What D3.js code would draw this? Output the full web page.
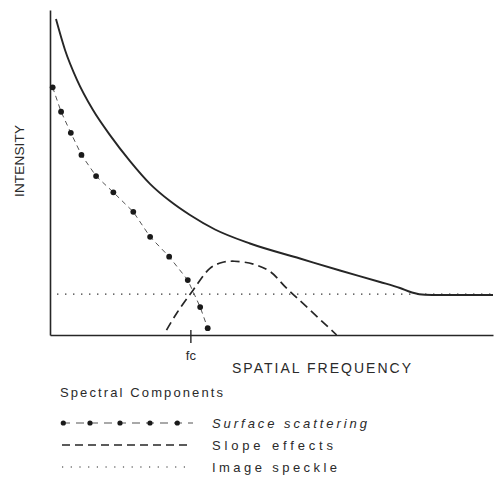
<!DOCTYPE html>
<html><head><meta charset="utf-8">
<script src="https://cdn.jsdelivr.net/npm/d3@7"></script>
<style>html,body{margin:0;padding:0;background:#fff;}text{font-family:"Liberation Sans",Arial,sans-serif;fill:#2a2a2a;}</style>
</head><body>
<svg id="c" width="501" height="480"></svg>
<script>
// Data (arbitrary units: frequency 0-100, intensity 0-100)
const totalFreq = [1.35,3.39,6.09,9.71,13.54,18.06,22.57,27.09,31.6,37.25,45.15,56.43,65.46,74.49,79.0,81.72,84.65,88.04,100];
const totalInt  = [97.2,87.7,78.5,69.2,61.5,53.5,46.5,41.2,36.9,32.46,28.15,23.54,19.85,16.31,14.46,13.08,12.37,12.31,12.31];
const surfFreq = [0.6,2.5,4.7,7.1,10.4,14.3,18.8,22.6,26.9,31.1,33.9,35.6];
const surfInt  = [76.2,68.7,62.2,55.4,48.9,43.9,37.9,30.2,24.1,16.9,8.6,2.1];
const slopeFreq = [26.3,28.6,32.3,36.1,38.8,41.6,45.9,49.7,53.4,57.9,64.7];
const slopeInt  = [1.5,6.7,13.8,20.5,22.3,22.7,21.8,19.5,14.4,8.7,0];
const speckleFreq = [1.6,100];
const speckleInt  = [12.6,12.6];
const cutoffFreq = 31.8;
const cutoffLabel = "fc";
const xTitle = "SPATIAL FREQUENCY";
const yTitle = "INTENSITY";
const legendTitle = "Spectral Components";
const legendLabels = ["Surface scattering","Slope effects","Image speckle"];

const svg = d3.select("#c");
const x = d3.scaleLinear().domain([0,100]).range([50,493]);
const y = d3.scaleLinear().domain([0,100]).range([335,10]);
const ink = "#262626";

// axes
svg.append("g").attr("transform","translate(0,335)")
  .call(d3.axisBottom(x).tickValues([]).tickSizeOuter(0))
  .call(g=>g.select(".domain").attr("stroke",ink).attr("stroke-width",1.6));
svg.append("g").attr("transform","translate(50,0)")
  .call(d3.axisLeft(y).tickValues([]).tickSizeOuter(0))
  .call(g=>g.select(".domain").attr("stroke",ink).attr("stroke-width",1.6));

// fc tick
svg.append("line").attr("x1",x(cutoffFreq)).attr("x2",x(cutoffFreq))
  .attr("y1",330).attr("y2",343).attr("stroke",ink).attr("stroke-width",1.4);
svg.append("text").attr("x",x(cutoffFreq)).attr("y",360).attr("text-anchor","middle")
  .attr("font-size",13).text(cutoffLabel);

const line = d3.line().x(d=>x(d[0])).y(d=>y(d[1]));

// speckle
svg.append("path").datum(d3.zip(speckleFreq,speckleInt))
  .attr("d",line).attr("fill","none").attr("stroke",ink).attr("stroke-width",1.3)
  .attr("stroke-dasharray","1.3,6.7");

// total curve
svg.append("path").datum(d3.zip(totalFreq,totalInt))
  .attr("d",d3.line().x(d=>x(d[0])).y(d=>y(d[1])).curve(d3.curveMonotoneX)).attr("fill","none").attr("stroke",ink).attr("stroke-width",1.9);

// slope
svg.append("path").datum(d3.zip(slopeFreq,slopeInt))
  .attr("d",d3.line().x(d=>x(d[0])).y(d=>y(d[1])).curve(d3.curveCatmullRom)).attr("fill","none")
  .attr("stroke",ink).attr("stroke-width",1.7).attr("stroke-dasharray","9,5");

// surface
const surf = d3.zip(surfFreq,surfInt);
svg.append("path").datum(surf)
  .attr("d",line).attr("fill","none")
  .attr("stroke","#555").attr("stroke-width",1).attr("stroke-dasharray","5,4");
svg.selectAll("circle.s").data(surf).join("circle").attr("class","s")
  .attr("cx",d=>x(d[0])).attr("cy",d=>y(d[1])).attr("r",2.9).attr("fill","#1a1a1a");

// titles
svg.append("text").attr("x",232).attr("y",373).attr("font-size",14)
  .attr("textLength",179).attr("lengthAdjust","spacing").text(xTitle);
svg.append("text").attr("transform","translate(23.5,197) rotate(-90)").attr("font-size",13.5)
  .attr("textLength",72).attr("lengthAdjust","spacing").text(yTitle);

// legend
svg.append("text").attr("x",60).attr("y",397).attr("font-size",13)
  .attr("textLength",163).attr("lengthAdjust","spacing").text(legendTitle);
const rowY = [423,445,467];
const textLens = [155,121,125];
legendLabels.forEach((l,i)=>{
  svg.append("text").attr("x",212).attr("y",rowY[i]+4.5).attr("font-size",13)
    .attr("font-style",i===0?"italic":"normal")
    .attr("textLength",textLens[i]).attr("lengthAdjust","spacing").text(l);
});
// legend symbols
svg.append("line").attr("x1",62).attr("x2",193).attr("y1",rowY[0]).attr("y2",rowY[0])
  .attr("stroke","#555").attr("stroke-width",1.1).attr("stroke-dasharray","8,6");
[63.3,90,120,150,177.3].forEach(cx=>svg.append("circle").attr("cx",cx).attr("cy",rowY[0]).attr("r",2.6).attr("fill","#1a1a1a"));
svg.append("line").attr("x1",62).attr("x2",188).attr("y1",rowY[1]).attr("y2",rowY[1])
  .attr("stroke",ink).attr("stroke-width",1.4).attr("stroke-dasharray","8,5");
svg.append("line").attr("x1",62).attr("x2",192).attr("y1",rowY[2]).attr("y2",rowY[2])
  .attr("stroke",ink).attr("stroke-width",1.2).attr("stroke-dasharray","1.2,7.5");
</script>
</body></html>
